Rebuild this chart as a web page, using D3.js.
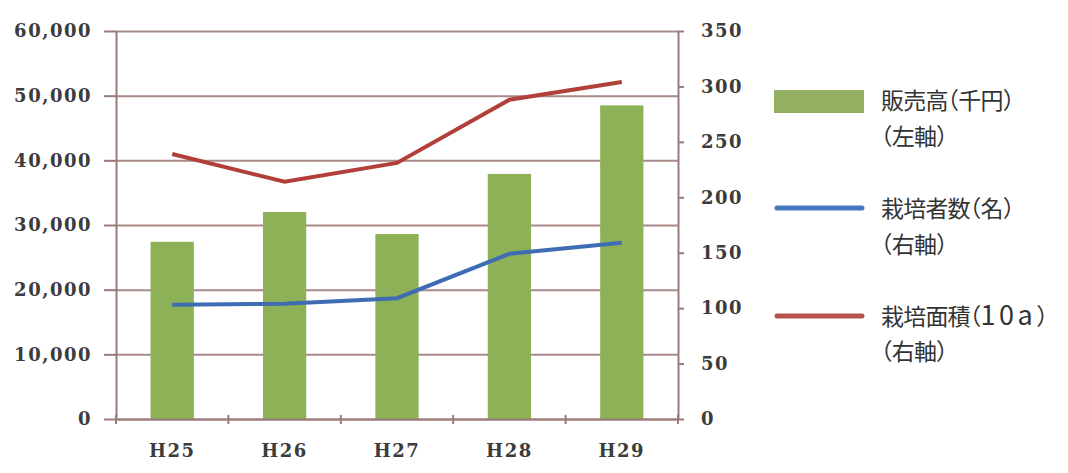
<!DOCTYPE html>
<html lang="ja">
    <head>
        <meta charset="utf-8">
        <title>販売高・栽培者数・栽培面積</title>
        <script type="text/javascript" src="https://cdn.jsdelivr.net/npm/d3@7/dist/d3.min.js"></script>
        <style type="text/css">
            body { margin: 0; background: #fff; }
            .axis path, .axis line { fill: none; stroke: #9a7a78; stroke-width: 2; }
            .axis text {
                font-family: "DejaVu Serif", serif;
                font-size: 18px;
                font-weight: bold;
                letter-spacing: 1.5px;
                fill: #3c3c3c;
            }
            .grid line { stroke: #a88a88; stroke-width: 2; }
            .grid path { stroke: none; }
            /* 括弧を半角幅にする (halt) */
            .legend text {
                font-family: "Noto Sans CJK JP", sans-serif;
                font-size: 23px;
                font-feature-settings: "halt";
                letter-spacing: -0.8px;
                fill: #333;
            }
            .legend tspan.latin { font-size: 27px; letter-spacing: 3.5px; }
        </style>
    </head>
    <body>
        <div class="chart"></div>
        <script type="text/javascript">
            // データ
            var years = ["H25", "H26", "H27", "H28", "H29"];
            var sales = [27400, 32000, 28600, 37900, 48500];      // 販売高(千円) 左軸
            var growers = [103, 104, 109, 149, 159];              // 栽培者数(名) 右軸
            var area = [239, 214, 231, 288, 304];                 // 栽培面積(10a) 右軸
            var leftTicks = [0, 10000, 20000, 30000, 40000, 50000, 60000];
            var rightTicks = [0, 50, 100, 150, 200, 250, 300, 350];

            var w = 1068;
            var h = 473;
            // 描画領域 (window.top と衝突しない名前にする)
            var plotL = 116, plotR = 678, plotT = 31, plotB = 419;

            var svg = d3.select("body div.chart")
                        .append("svg")
                        .attr("width", w)
                        .attr("height", h);

            var xScale = d3.scaleBand()
                           .domain(years)
                           .range([plotL, plotR])
                           .padding(0);
            var yLeft = d3.scaleLinear()
                          .domain([0, 60000])
                          .range([plotB, plotT]);
            var yRight = d3.scaleLinear()
                           .domain([0, 350])
                           .range([plotB, plotT]);

            // グリッド線
            svg.append("g")
               .attr("class", "grid")
               .attr("transform", "translate(" + plotL + ",0)")
               .call(d3.axisLeft(yLeft).tickValues(leftTicks).tickSize(-(plotR - plotL)).tickFormat(""));

            // 棒グラフ
            var barW = xScale.bandwidth() * 0.385;
            svg.selectAll("rect.bar")
               .data(sales)
               .enter()
               .append("rect")
               .attr("class", "bar")
               .attr("x", function(d, i){ return xScale(years[i]) + (xScale.bandwidth() - barW) / 2; })
               .attr("y", function(d){ return yLeft(d); })
               .attr("width", barW)
               .attr("height", function(d){ return plotB - yLeft(d); })
               .attr("fill", "#8cb157");

            // 折れ線
            var line = d3.line()
                         .x(function(d, i){ return xScale(years[i]) + xScale.bandwidth() / 2; })
                         .y(function(d){ return yRight(d); });
            svg.append("path")
               .datum(growers)
               .attr("d", line)
               .attr("fill", "none")
               .attr("stroke", "#3f6cb3")
               .attr("stroke-width", 4);
            svg.append("path")
               .datum(area)
               .attr("d", line)
               .attr("fill", "none")
               .attr("stroke", "#b2403a")
               .attr("stroke-width", 4);

            // 左軸
            svg.append("g")
               .attr("class", "axis")
               .attr("transform", "translate(" + plotL + ",0)")
               .call(d3.axisLeft(yLeft).tickValues(leftTicks).tickSize(12).tickSizeOuter(0).tickPadding(12)
                       .tickFormat(d3.format(",")));

            // 右軸
            svg.append("g")
               .attr("class", "axis")
               .attr("transform", "translate(" + plotR + ",0)")
               .call(d3.axisRight(yRight).tickValues(rightTicks).tickSize(6).tickSizeOuter(0).tickPadding(17));

            // 下軸
            var xAxis = svg.append("g")
               .attr("class", "axis")
               .attr("transform", "translate(0," + plotB + ")")
               .call(d3.axisBottom(xScale).tickSize(0).tickSizeOuter(0).tickPadding(25));
            var bounds = years.map(function(d){ return xScale(d); }).concat([plotR]);
            xAxis.selectAll("line.sep")
                 .data(bounds)
                 .enter()
                 .append("line")
                 .attr("class", "sep")
                 .attr("x1", function(d){ return d; })
                 .attr("x2", function(d){ return d; })
                 .attr("y1", -4)
                 .attr("y2", 5);

            // 凡例
            var legend = svg.append("g").attr("class", "legend");
            legend.append("rect")
                  .attr("x", 774).attr("y", 90)
                  .attr("width", 90).attr("height", 23)
                  .attr("fill", "#93b062");
            legend.append("line")
                  .attr("x1", 777).attr("x2", 862)
                  .attr("y1", 208).attr("y2", 208)
                  .attr("stroke", "#4677c0").attr("stroke-width", 5)
                  .attr("stroke-linecap", "round");
            legend.append("line")
                  .attr("x1", 777).attr("x2", 862)
                  .attr("y1", 316).attr("y2", 316)
                  .attr("stroke", "#b5524c").attr("stroke-width", 5)
                  .attr("stroke-linecap", "round");
            // 各行: [漢字部分, 英数字部分, 閉じ括弧, ベースライン]
            var labels = [
                ["販売高（千円）", "", "", 109], ["（左軸）", "", "", 145],
                ["栽培者数（名）", "", "", 217], ["（右軸）", "", "", 253],
                ["栽培面積（", "10a", "）", 325], ["（右軸）", "", "", 360]
            ];
            var rows = legend.selectAll("text")
                  .data(labels)
                  .enter()
                  .append("text")
                  .attr("x", 881)
                  .attr("y", function(d){ return d[3]; });
            rows.append("tspan").text(function(d){ return d[0]; });
            rows.filter(function(d){ return d[1]; })
                .append("tspan").attr("class", "latin").text(function(d){ return d[1]; });
            rows.filter(function(d){ return d[2]; })
                .append("tspan").text(function(d){ return d[2]; });
        </script>
    </body>
</html>
